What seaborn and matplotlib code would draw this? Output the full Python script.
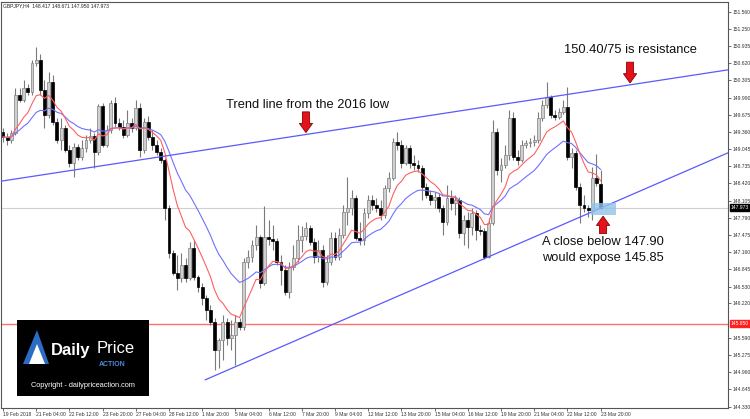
import numpy as np
import pandas as pd
import matplotlib
matplotlib.use("Agg")
import matplotlib.pyplot as plt
import matplotlib.transforms as mtransforms
from matplotlib.patches import FancyArrow, Rectangle, Polygon
import seaborn as sns

# GBPJPY H4 candles (19 Feb - 23 Mar 2018)
opens = [149.36, 149.27, 149.22, 149.34, 150.04, 149.95, 150.17, 150.10, 150.62, 150.68,
         150.13, 149.67, 150.28, 149.55, 149.22, 149.44, 149.03, 148.79, 149.09, 148.90,
         149.07, 149.22, 149.29, 148.99, 149.84, 149.12, 149.40, 149.89, 149.53, 149.45,
         149.31, 149.53, 149.44, 149.80, 149.03, 149.55, 149.27, 149.12, 148.99, 148.85,
         147.97, 147.15, 146.78, 146.69, 146.93, 146.69, 147.24, 146.71, 146.52, 146.32,
         146.10, 145.88, 145.37, 145.55, 145.88, 145.59, 145.64, 145.88, 145.79, 146.98,
         147.07, 147.29, 147.44, 146.60, 147.44, 147.40, 147.37, 146.98, 146.83, 146.43,
         146.89, 147.05, 147.38, 147.46, 147.60, 147.35, 147.07, 147.20, 146.61, 146.98,
         147.42, 147.07, 147.48, 147.90, 147.97, 148.15, 147.42, 147.38, 147.88, 148.12,
         148.02, 147.97, 147.84, 148.34, 148.52, 149.18, 149.12, 148.79, 149.07, 148.79,
         148.76, 148.70, 148.36, 148.21, 148.12, 148.17, 147.97, 147.71, 148.15, 148.06,
         148.12, 147.51, 147.75, 147.62, 147.88, 147.57, 147.55, 147.07, 147.69, 149.36,
         148.67, 148.76, 148.94, 149.62, 148.90, 148.85, 149.12, 149.16, 149.18, 149.22,
         149.62, 149.86, 150.00, 149.67, 149.64, 149.73, 149.82, 148.90, 148.98, 148.36,
         148.02, 147.97, 147.93, 148.52, 148.417]
highs = [149.44, 149.34, 149.40, 150.17, 150.17, 150.31, 150.24, 150.68, 150.92, 150.79,
         150.31, 150.46, 150.41, 149.62, 149.62, 149.49, 149.12, 149.16, 149.14, 149.22,
         149.31, 149.44, 149.34, 149.87, 149.89, 149.49, 149.95, 150.00, 149.62, 149.58,
         149.76, 149.62, 149.95, 149.89, 149.62, 149.65, 149.40, 149.22, 149.07, 148.89,
         148.02, 147.20, 147.11, 147.15, 147.06, 147.35, 147.38, 146.74, 146.60, 146.38,
         146.19, 145.96, 145.59, 146.01, 145.96, 145.92, 146.01, 145.96, 147.05, 147.20,
         147.38, 147.66, 147.48, 148.01, 147.75, 147.66, 147.42, 147.11, 146.93, 146.98,
         147.29, 147.66, 147.64, 147.71, 147.66, 147.42, 147.38, 147.29, 147.11, 147.53,
         147.53, 147.60, 148.02, 148.54, 148.30, 148.21, 147.71, 147.97, 148.21, 148.21,
         148.15, 148.12, 148.39, 148.63, 149.25, 149.36, 149.22, 149.12, 149.12, 148.94,
         148.85, 148.76, 148.43, 148.30, 148.26, 148.24, 148.02, 148.39, 148.30, 148.21,
         148.17, 147.84, 147.90, 147.97, 147.93, 147.66, 147.60, 147.79, 149.58, 149.44,
         148.89, 149.12, 149.76, 149.73, 149.03, 149.22, 149.22, 149.25, 149.31, 149.73,
         149.95, 150.28, 150.04, 149.76, 149.80, 149.95, 150.19, 149.07, 149.03, 148.43,
         148.21, 148.02, 148.72, 148.96, 148.671]
lows = [149.18, 149.12, 149.16, 149.31, 149.91, 149.91, 150.04, 150.04, 150.57, 150.04,
        149.44, 149.62, 149.49, 149.16, 149.03, 148.99, 148.72, 148.54, 148.85, 148.85,
        148.99, 149.16, 148.70, 148.94, 149.09, 149.09, 149.34, 149.45, 149.40, 149.25,
        149.27, 149.36, 149.40, 148.90, 148.98, 149.22, 149.03, 148.94, 148.79, 147.75,
        147.05, 146.74, 146.47, 146.62, 146.62, 146.65, 146.65, 146.43, 146.19, 145.92,
        145.83, 145.00, 145.04, 145.19, 145.46, 145.37, 145.09, 145.73, 145.73, 146.87,
        146.98, 147.20, 146.50, 146.56, 147.29, 147.20, 146.93, 146.56, 146.38, 146.32,
        146.83, 146.98, 147.16, 147.38, 147.29, 146.96, 146.98, 146.52, 146.56, 146.93,
        147.02, 147.02, 147.42, 147.66, 147.84, 147.38, 147.29, 147.29, 147.79, 147.93,
        147.90, 147.75, 147.79, 148.26, 148.48, 149.03, 148.70, 148.76, 148.70, 148.67,
        148.63, 148.12, 148.15, 148.02, 147.97, 147.90, 147.48, 147.66, 147.93, 147.84,
        147.42, 147.29, 147.24, 147.48, 147.38, 147.48, 147.04, 147.05, 147.66, 148.57,
        148.45, 148.70, 148.85, 148.85, 148.76, 148.81, 149.07, 149.09, 149.11, 149.16,
        149.56, 149.80, 149.62, 149.58, 149.60, 149.69, 148.85, 148.70, 148.30, 147.69,
        147.90, 147.80, 147.75, 148.37, 147.950]
closes = [149.27, 149.22, 149.34, 150.04, 149.95, 150.17, 150.10, 150.62, 150.68, 150.13,
          149.67, 150.28, 149.55, 149.22, 149.44, 149.03, 148.79, 149.09, 148.90, 149.07,
          149.22, 149.29, 148.99, 149.84, 149.12, 149.40, 149.89, 149.53, 149.45, 149.31,
          149.53, 149.44, 149.80, 149.03, 149.55, 149.27, 149.12, 148.99, 148.85, 147.97,
          147.15, 146.78, 146.69, 146.93, 146.69, 147.24, 146.71, 146.52, 146.32, 146.10,
          145.88, 145.37, 145.55, 145.88, 145.59, 145.64, 145.88, 145.79, 146.98, 147.07,
          147.29, 147.44, 146.60, 147.44, 147.40, 147.37, 146.98, 146.83, 146.43, 146.89,
          147.05, 147.38, 147.46, 147.60, 147.35, 147.07, 147.20, 146.61, 146.98, 147.42,
          147.07, 147.48, 147.90, 147.97, 148.15, 147.42, 147.38, 147.88, 148.12, 148.02,
          147.97, 147.84, 148.34, 148.52, 149.18, 149.12, 148.79, 149.07, 148.79, 148.76,
          148.70, 148.36, 148.21, 148.12, 148.17, 147.97, 147.71, 148.15, 148.06, 148.12,
          147.51, 147.75, 147.62, 147.88, 147.57, 147.55, 147.07, 147.69, 149.36, 148.67,
          148.76, 148.94, 149.62, 148.90, 148.85, 149.12, 149.16, 149.18, 149.22, 149.62,
          149.86, 150.00, 149.67, 149.64, 149.73, 149.82, 148.90, 148.98, 148.36, 148.02,
          147.97, 147.93, 148.52, 148.43, 147.973]

date_labels = ["19 Feb 2018", "21 Feb 04:00", "22 Feb 12:00", "23 Feb 20:00", "27 Feb 04:00",
               "28 Feb 12:00", "1 Mar 20:00", "5 Mar 04:00", "6 Mar 12:00", "7 Mar 20:00",
               "9 Mar 04:00", "12 Mar 12:00", "13 Mar 20:00", "15 Mar 04:00", "16 Mar 12:00",
               "19 Mar 20:00", "21 Mar 04:00", "22 Mar 12:00", "23 Mar 20:00"]
price_ticks = [151.560, 151.250, 150.935, 150.620, 150.305, 149.990, 149.675, 149.360,
               149.045, 148.735, 148.420, 148.105, 147.790, 147.475, 147.160, 146.845,
               146.530, 146.220, 145.590, 145.275, 144.960, 144.645, 144.330]

support_level = 145.850
last_price = 147.973
upper_trend_x = [-0.5, 174.7]
upper_trend_y = [148.46, 150.50]
lower_trend_x = [48.7, 174.7]
lower_trend_y = [144.82, 148.98]

df = pd.DataFrame({"bar": np.arange(len(closes)), "open": opens, "high": highs,
                   "low": lows, "close": closes})
df["ma_fast"] = df["close"].ewm(span=10, adjust=False).mean()
df["ma_slow"] = df["close"].ewm(span=21, adjust=False).mean()

sns.set_theme(style="white")
plt.rcParams["font.family"] = ["Liberation Sans", "DejaVu Sans"]

fig = plt.figure(figsize=(7.5, 4.19), dpi=100)
ax = fig.add_axes([1 / 750, 11 / 419, 727 / 750, 406 / 419])
ax.set_xlim(-0.48, 174.7)
ax.set_ylim(144.305, 151.743)

# reference lines
ax.axhline(last_price, color="#d0d0d0", lw=0.8, zorder=1)
ax.axhline(support_level, color="#ff7070", lw=1.0, zorder=1)

# candles
up = df["close"] >= df["open"]
ax.vlines(df["bar"], df["low"], df["high"], color="#7a7a7a", lw=0.8, zorder=2)
body = (df["close"] - df["open"]).where(lambda s: s.abs() > 0.01, 0.01)
ax.bar(df["bar"][up], body[up], bottom=df["open"][up], width=0.7,
       color="#cfcfcf", edgecolor="#808080", lw=0.5, zorder=3)
ax.bar(df["bar"][~up], body[~up], bottom=df["open"][~up], width=0.7,
       color="black", edgecolor="black", lw=0.5, zorder=3)

sns.lineplot(data=df, x="bar", y="ma_slow", color="#7070ff", lw=0.8, ax=ax, zorder=4)
sns.lineplot(data=df, x="bar", y="ma_fast", color="#ff6060", lw=0.8, ax=ax, zorder=4)

# trend lines
ax.plot(upper_trend_x, upper_trend_y, color="#5a5aff", lw=0.9, zorder=4)
ax.plot(lower_trend_x, lower_trend_y, color="#5a5aff", lw=0.9, zorder=4)

# annotations
ax.add_patch(Rectangle((141.7, 147.84), 6.0, 0.22, facecolor="#8fc3e8", alpha=0.8,
                       edgecolor="none", zorder=5))


def block_arrow(x, y_tail, y_tip):
    ax.add_patch(FancyArrow(x, y_tail, 0, y_tip - y_tail, width=1.7, head_width=3.2,
                            head_length=0.17, length_includes_head=True,
                            facecolor="#e3121b", edgecolor="#8a0000", lw=0.6, zorder=6))


block_arrow(73.0, 149.73, 149.35)
block_arrow(151.1, 150.64, 150.26)
block_arrow(144.6, 147.50, 147.82)

txt = dict(fontsize=9.3, color="#111111", zorder=7)
ax.text(73.3, 149.86, "Trend line from the 2016 low", ha="center", va="center", **txt)
ax.text(151.3, 150.87, "150.40/75 is resistance", ha="center", va="center", **txt)
ax.text(129.9, 147.35, "A close below 147.90", ha="left", va="center", **txt)
ax.text(129.9, 147.06, "would expose 145.85", ha="left", va="center", **txt)

ax.text(0.003, 0.997, "GBPJPY,H4  148.417 148.671 147.950 147.973", transform=ax.transAxes,
        fontsize=3.6, va="top", ha="left", color="#222222")

# axes styling
for s in ax.spines.values():
    s.set_color("#555555")
    s.set_linewidth(0.8)
ax.yaxis.tick_right()
ax.set_yticks(price_ticks)
ax.set_yticklabels([f"{p:.3f}" for p in price_ticks])
ax.set_xticks(np.arange(0, len(closes), 8))
ax.set_xticklabels(date_labels, ha="left")
ax.tick_params(axis="both", labelsize=3.6, length=2, width=0.5, pad=1,
               colors="#333333", direction="out", bottom=True, right=True)
ax.set_xlabel("")
ax.set_ylabel("")
ax.grid(False)

blend = mtransforms.blended_transform_factory(ax.transAxes, ax.transData)
for price, bg in [(last_price, "black"), (support_level, "#ff2020")]:
    ax.text(1.004, price, f"{price:.3f}", transform=blend, fontsize=3.6, color="white",
            ha="left", va="center", zorder=8, clip_on=False,
            bbox=dict(boxstyle="square,pad=0.2", fc=bg, ec=bg))

# logo box
lg = fig.add_axes([17 / 750, 23 / 419, 132 / 750, 76 / 419])
lg.set_xlim(0, 132)
lg.set_ylim(76, 0)
lg.set_facecolor("black")
lg.set_xticks([])
lg.set_yticks([])
for s in lg.spines.values():
    s.set_visible(False)
lg.add_patch(Polygon([[6, 44], [20, 10], [32, 44]], closed=True, fc="#2b6cc4", ec="none"))
lg.add_patch(Polygon([[12, 44], [20, 24], [28, 44]], closed=True, fc="white", ec="none"))
lg.text(34, 30, "Daily", color="white", fontsize=12, fontweight="bold", va="center", ha="left")
lg.text(80, 28, "Price", color="white", fontsize=12, va="center", ha="left")
lg.text(82, 44, "ACTION", color="#4a8ad8", fontsize=5, va="center", ha="left", fontweight="bold")
lg.text(66, 65, "Copyright - dailypriceaction.com", color="white", fontsize=5.3,
        va="center", ha="center")

fig.savefig("out.png", dpi=100)
